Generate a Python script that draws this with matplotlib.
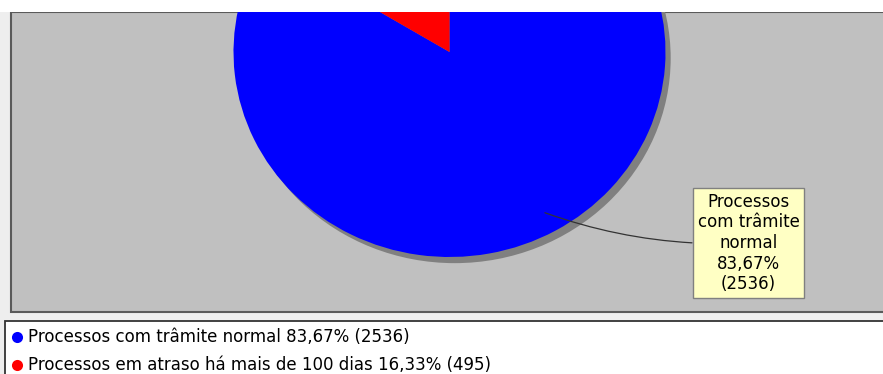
import numpy as np
import matplotlib
matplotlib.use('Agg')
from matplotlib import pyplot as plt
from matplotlib.patches import Rectangle, Circle

# Data
categories = ['Processos com trâmite normal', 'Processos em atraso há mais de 100 dias']
counts = [2536, 495]
slice_colors = ['#0000ff', '#ff0000']

W, H = 883, 374
plt.rcParams['font.family'] = 'DejaVu Sans'

total = sum(counts)
pcts = [100.0 * c / total for c in counts]
pct_txt = [('%.2f%%' % p).replace('.', ',') for p in pcts]

fig = plt.figure(figsize=(W / 100, H / 100), dpi=100)
fig.patch.set_facecolor('white')

# background axes in pixel coordinates
ax = fig.add_axes([0, 0, 1, 1])
ax.set_xlim(0, W)
ax.set_ylim(H, 0)
ax.axis('off')
ax.add_patch(Rectangle((0, 12), W, H - 12, facecolor='#eeeeee', edgecolor='none'))
ax.add_patch(Rectangle((10.5, 12), W + 10, 300, facecolor='#c0c0c0', edgecolor='#5a5a5a', lw=1.5))

# pie axes (slightly elliptical like the original)
cx, cy, rx, ry = 449.5, 52, 216, 205
pie_ax = fig.add_axes([(cx - 1.1 * rx) / W, (H - (cy + 1.1 * ry)) / H, 2.2 * rx / W, 2.2 * ry / H])
pie_ax.add_patch(Circle((0.024, -0.03), 1.0, facecolor='#808080', edgecolor='none'))
wedges, _ = pie_ax.pie(counts, colors=slice_colors, startangle=90, counterclock=False,
                       wedgeprops=dict(linewidth=0))
pie_ax.set_aspect('auto')
pie_ax.set_xlim(-1.1, 1.1)
pie_ax.set_ylim(-1.1, 1.1)
pie_ax.axis('off')

# overlay axes: white top band, label, legend
top = fig.add_axes([0, 0, 1, 1])
top.set_xlim(0, W)
top.set_ylim(H, 0)
top.axis('off')
top.patch.set_alpha(0)
top.add_patch(Rectangle((0, 0), W, 12, facecolor='white', edgecolor='none', zorder=5))

# label for the big slice, anchored at mid angle
w0 = wedges[0]
mid = np.deg2rad((w0.theta1 + w0.theta2) / 2)
anchor = (0.9 * np.cos(mid), 0.9 * np.sin(mid))
label = categories[0].replace('Processos com', 'Processos\ncom').replace('trâmite normal', 'trâmite\nnormal')
label += '\n' + pct_txt[0] + '\n(' + str(counts[0]) + ')'
top.annotate(label, xy=anchor, xycoords=pie_ax.transData,
             xytext=(748.5, 243), textcoords='data',
             ha='center', va='center', fontsize=12, linespacing=1.18, color='#000000',
             bbox=dict(boxstyle='square,pad=0.3', facecolor='#ffffc4', edgecolor='#808080', lw=1),
             arrowprops=dict(arrowstyle='-', color='#333333', lw=0.9,
                             connectionstyle='arc3,rad=-0.1', shrinkA=0, shrinkB=0))

# legend box
top.add_patch(Rectangle((4.5, 321), W + 10, 60, facecolor='white', edgecolor='#333333', lw=1.3))
for i, (cat, col) in enumerate(zip(categories, slice_colors)):
    yy = 337 + 28 * i
    top.plot(17, yy, 'o', color=col, markersize=8, markeredgewidth=0)
    top.text(28, yy, '%s %s (%d)' % (cat, pct_txt[i], counts[i]), fontsize=12,
             va='center', ha='left', color='#000000')

plt.savefig('out.png', dpi=100)
plt.close()
